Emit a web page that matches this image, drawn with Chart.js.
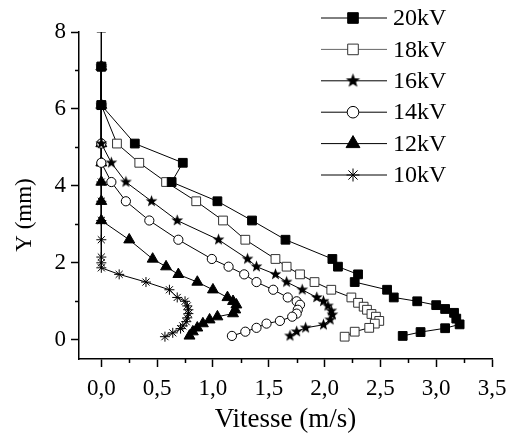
<!DOCTYPE html>
<html>
<head>
<meta charset="utf-8">
<script src="https://cdn.jsdelivr.net/npm/chart.js@4.4.1/dist/chart.umd.min.js"></script>
<style>
  html, body { margin: 0; padding: 0; background: #fff; }
  #wrap { width: 508px; height: 434px; }
</style>
</head>
<body>
<div id="wrap"><canvas id="chart" width="508" height="434"></canvas></div>
<script>
const labels = ['20kV', '18kV', '16kV', '14kV', '12kV', '10kV'];

const v20 = [0, 0, 0, 0.30, 0.73, 0.63, 1.04, 1.35, 1.65, 2.07, 2.12, 2.30, 2.27, 2.56, 2.62, 2.83, 3.00, 3.08, 3.16, 3.18, 3.21, 3.08, 2.86, 2.70];
const y20 = [8, 7.1, 6.1, 5.1, 4.6, 4.1, 3.6, 3.1, 2.6, 2.1, 1.9, 1.7, 1.5, 1.3, 1.1, 1.0, 0.9, 0.8, 0.7, 0.55, 0.4, 0.3, 0.2, 0.1];

const v18 = [0, 0, 0.14, 0.34, 0.58, 0.85, 1.09, 1.29, 1.56, 1.66, 1.78, 1.91, 2.06, 2.24, 2.30, 2.35, 2.38, 2.42, 2.46, 2.49, 2.45, 2.40, 2.27, 2.18];
const y18 = [7.1, 6.1, 5.1, 4.6, 4.1, 3.6, 3.1, 2.6, 2.1, 1.9, 1.7, 1.5, 1.3, 1.1, 0.96, 0.86, 0.78, 0.67, 0.6, 0.49, 0.42, 0.31, 0.21, 0.08];

const v16 = [0, 0, 0, 0.09, 0.22, 0.45, 0.68, 1.05, 1.31, 1.39, 1.56, 1.66, 1.80, 1.93, 1.99, 2.03, 2.06, 2.07, 2.05, 1.99, 1.83, 1.75, 1.69];
const y16 = [7.1, 6.1, 5.1, 4.6, 4.1, 3.6, 3.1, 2.6, 2.1, 1.9, 1.7, 1.5, 1.3, 1.1, 1.0, 0.88, 0.75, 0.65, 0.52, 0.39, 0.31, 0.21, 0.1];

const v14 = [0, 0, 0, 0, 0.09, 0.22, 0.43, 0.69, 0.99, 1.14, 1.28, 1.39, 1.54, 1.67, 1.75, 1.78, 1.76, 1.75, 1.71, 1.60, 1.48, 1.39, 1.29, 1.17];
const y14 = [7.1, 6.1, 5.1, 4.6, 4.1, 3.6, 3.1, 2.6, 2.1, 1.9, 1.7, 1.5, 1.3, 1.1, 1.0, 0.91, 0.78, 0.68, 0.6, 0.49, 0.42, 0.31, 0.21, 0.1];

const v12 = [0, 0, 0, 0, 0, 0, 0, 0.25, 0.46, 0.58, 0.69, 0.86, 1.0, 1.13, 1.18, 1.21, 1.20, 1.18, 1.04, 0.97, 0.91, 0.86, 0.82, 0.79];
const y12 = [7.1, 6.1, 5.1, 4.6, 4.1, 3.6, 3.1, 2.6, 2.1, 1.9, 1.7, 1.5, 1.3, 1.1, 1.0, 0.91, 0.78, 0.68, 0.6, 0.52, 0.42, 0.31, 0.21, 0.1];

const v10 = [0, 0, 0, 0, 0, 0, 0, 0, 0, 0, 0, 0.16, 0.40, 0.61, 0.68, 0.75, 0.77, 0.78, 0.78, 0.77, 0.76, 0.73, 0.71, 0.64, 0.57];
const y10 = [7.1, 6.1, 5.1, 4.6, 4.1, 3.6, 3.1, 2.6, 2.15, 2.0, 1.87, 1.7, 1.5, 1.3, 1.1, 1.0, 0.88, 0.78, 0.68, 0.57, 0.47, 0.36, 0.29, 0.18, 0.08];

const xTicks = [0, 0.5, 1, 1.5, 2, 2.5, 3, 3.5];
const xMinor = [0.25, 0.75, 1.25, 1.75, 2.25, 2.75, 3.25];
const yTicks = [0, 2, 4, 6, 8];
const yMinor = [1, 3, 5, 7];
const yTitle = 'Y (mm)';

const FONT = "'Liberation Serif', 'Times New Roman', serif";

// filled five point star, used as an image point style
function makeStar(r) {
    const size = Math.ceil(r * 2 + 2);
    const c = document.createElement('canvas');
    c.width = size;
    c.height = size;
    const g = c.getContext('2d');
    g.beginPath();
    for (let i = 0; i < 10; i++) {
        const rad = i % 2 === 0 ? r : r * 0.42;
        const a = -Math.PI / 2 + i * Math.PI / 5;
        const px = size / 2 + rad * Math.cos(a);
        const py = size / 2 + rad * Math.sin(a);
        if (i === 0) g.moveTo(px, py); else g.lineTo(px, py);
    }
    g.closePath();
    g.fillStyle = '#000';
    g.fill();
    return c;
}
const starSmall = makeStar(6.2);
const starBig = makeStar(7.5);

function pts(xs, ys) {
    return xs.map((x, i) => ({ x: x, y: ys[i] }));
}

const series = [
    { data: pts(v20, y20), style: 'rect', legendStyle: 'rect', fill: '#000', stroke: '#000', r: 6.2, lr: 7.5 },
    { data: pts(v18, y18), style: 'rect', legendStyle: 'rect', fill: '#fff', stroke: '#333', r: 6.2, lr: 7.5 },
    { data: pts(v16, y16), style: starSmall, legendStyle: starBig, fill: '#000', stroke: '#000', r: 6, lr: 7 },
    { data: pts(v14, y14), style: 'circle', legendStyle: 'circle', fill: '#fff', stroke: '#000', r: 4.6, lr: 5.8 },
    { data: pts(v12, y12), style: 'triangle', legendStyle: 'triangle', fill: '#000', stroke: '#000', r: 6.3, lr: 8 },
    { data: pts(v10, y10), style: 'star', legendStyle: 'star', fill: '#000', stroke: '#000', r: 5, lr: 6.5 }
];

const datasets = series.map((s, i) => ({
    label: labels[i],
    data: s.data,
    showLine: true,
    borderColor: '#000',
    borderWidth: 1,
    pointStyle: i === 0 ? (ctx => ctx.dataIndex === 0 ? 'line' : 'rect') : s.style,
    pointRadius: i === 0 ? (ctx => ctx.dataIndex === 0 ? 4.5 : s.r) : s.r,
    pointBackgroundColor: s.fill,
    pointBorderColor: s.stroke,
    pointBorderWidth: 1,
    tension: 0
}));

// legend drawn inside the plot, top right
const legendPlugin = {
    id: 'innerLegend',
    afterDraw(chart) {
        const ctx = chart.ctx;
        ctx.save();
        series.forEach((s, i) => {
            const yy = 18 + i * 31.4;
            ctx.strokeStyle = i === 1 ? '#666' : '#000';
            ctx.lineWidth = 1;
            ctx.beginPath();
            ctx.moveTo(321, yy);
            ctx.lineTo(387, yy);
            ctx.stroke();
            ctx.fillStyle = s.fill;
            ctx.strokeStyle = s.stroke;
            Chart.helpers.drawPoint(ctx, { pointStyle: s.legendStyle, rotation: 0, radius: s.lr, borderWidth: 1 }, 353, yy);
            ctx.fillStyle = '#000';
            ctx.font = '24px ' + FONT;
            ctx.textBaseline = 'middle';
            ctx.textAlign = 'left';
            ctx.fillText(labels[i], 393, yy + 1);
        });
        ctx.restore();
    }
};

// short minor ticks between the labelled ones, and the y title (sits low in the original)
const extras = {
    id: 'extras',
    afterDraw(chart) {
        const ctx = chart.ctx;
        const xs = chart.scales.x;
        const ys = chart.scales.y;
        ctx.save();
        ctx.strokeStyle = '#000';
        ctx.lineWidth = 1.5;
        ctx.beginPath();
        xMinor.forEach(v => {
            const px = Math.round(xs.getPixelForValue(v)) + 0.5;
            ctx.moveTo(px, xs.top);
            ctx.lineTo(px, xs.top + 4);
        });
        yMinor.forEach(v => {
            const py = Math.round(ys.getPixelForValue(v)) + 0.5;
            ctx.moveTo(ys.right, py);
            ctx.lineTo(ys.right - 4, py);
        });
        ctx.stroke();

        ctx.translate(25, 215);
        ctx.rotate(-Math.PI / 2);
        ctx.fillStyle = '#000';
        ctx.font = '23px ' + FONT;
        ctx.textAlign = 'center';
        ctx.textBaseline = 'middle';
        ctx.fillText(yTitle, 0, 0);
        ctx.restore();
    }
};

new Chart(document.getElementById('chart'), {
    type: 'scatter',
    data: { datasets: datasets },
    options: {
        responsive: false,
        animation: false,
        layout: { padding: { left: 0, top: 32, right: 16, bottom: 0 } },
        plugins: {
            legend: { display: false },
            tooltip: { enabled: false }
        },
        scales: {
            x: {
                type: 'linear',
                min: -0.2,
                max: 3.5,
                afterBuildTicks: scale => { scale.ticks = xTicks.map(v => ({ value: v })); },
                afterFit: scale => {
                    scale.height = 75;
                    scale.paddingLeft = 0;
                    scale.paddingRight = 0;
                },
                grid: { drawOnChartArea: false, drawTicks: true, tickLength: 8, tickWidth: 1.5, tickColor: '#000' },
                border: { display: true, color: '#000', width: 1.5 },
                ticks: {
                    color: '#000',
                    padding: 8,
                    maxRotation: 0,
                    font: { family: FONT, size: 23 },
                    callback: v => v.toFixed(1).replace('.', ',')
                },
                title: {
                    display: true,
                    text: 'Vitesse (m/s)',
                    color: '#000',
                    font: { family: FONT, size: 27 },
                    padding: { top: 0, bottom: -2 }
                }
            },
            y: {
                type: 'linear',
                min: -0.5,
                max: 8,
                afterBuildTicks: scale => { scale.ticks = yTicks.map(v => ({ value: v })); },
                afterFit: scale => {
                    scale.width = 79;
                    scale.paddingTop = 0;
                    scale.paddingBottom = 0;
                },
                grid: { drawOnChartArea: false, drawTicks: true, tickLength: 8, tickWidth: 1.5, tickColor: '#000' },
                border: { display: true, color: '#000', width: 1.5 },
                ticks: {
                    color: '#000',
                    padding: 5,
                    font: { family: FONT, size: 23 },
                    callback: v => String(v)
                },
                title: { display: false }
            }
        }
    },
    plugins: [legendPlugin, extras]
});
</script>
</body>
</html>
